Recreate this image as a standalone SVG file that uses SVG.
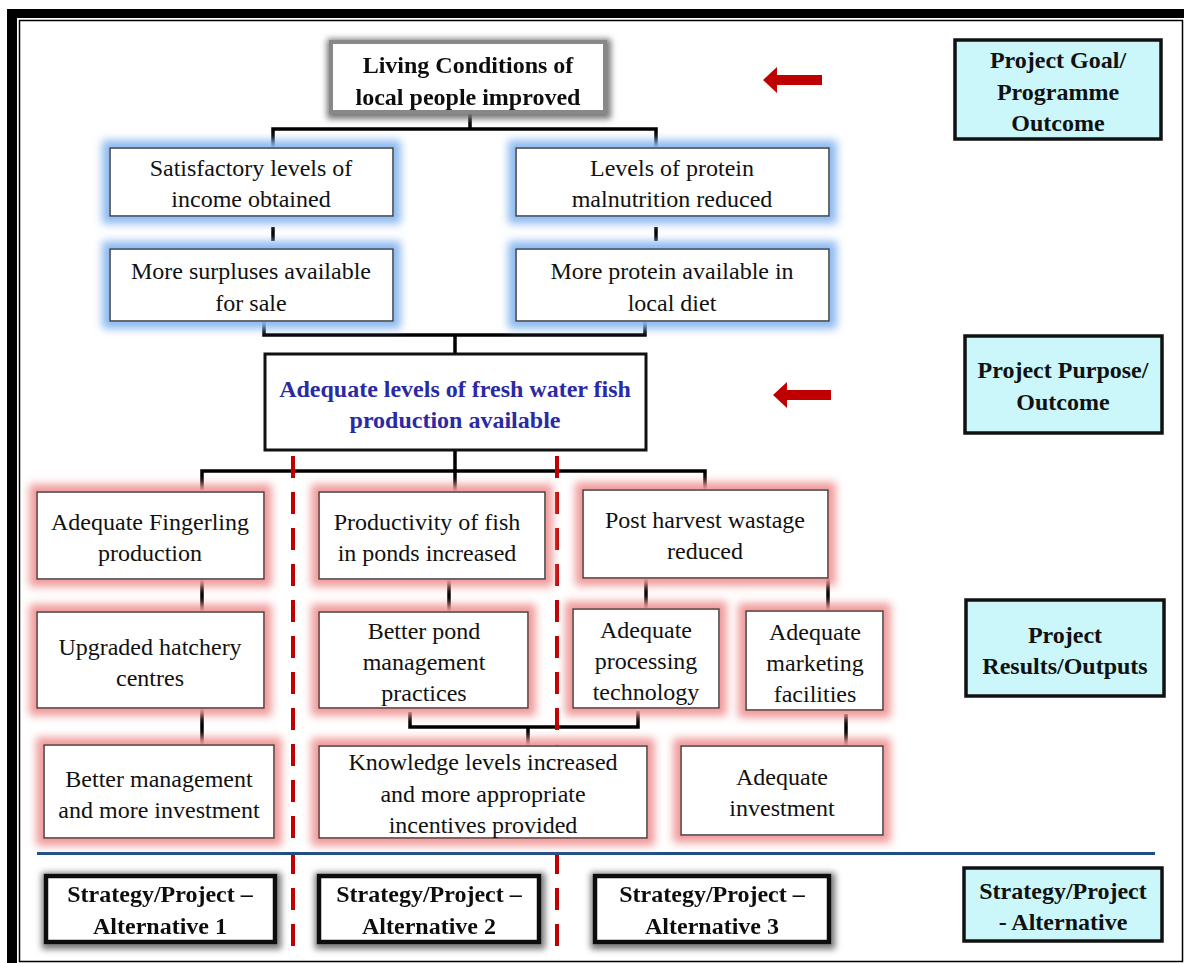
<svg xmlns="http://www.w3.org/2000/svg" width="1184" height="963" viewBox="0 0 1184 963">
  <style>
    .t { font-family: "Liberation Serif", "Times New Roman", serif; font-size: 24px; fill: #111; text-anchor: middle; }
    .b { font-family: "Liberation Serif", "Times New Roman", serif; font-size: 24px; font-weight: bold; fill: #111; text-anchor: middle; }
    .pb { fill: #2a2aa6; }
    .box { fill: #fff; stroke: #3a3a3a; stroke-width: 1.5; }
    .lbl { fill: #cbf7fb; stroke: #111; stroke-width: 3.5; }
    .alt { fill: #fff; stroke: #111; stroke-width: 4.5; }
    .conn { fill: none; stroke: #000; stroke-width: 3.5; }
    .split { fill: none; stroke: #c00000; stroke-width: 4; stroke-dasharray: 22 14; }
    .arrow { fill: #c00000; }
  </style>
  <defs>
    <filter id="glowBlue" x="-20%" y="-40%" width="140%" height="180%">
      <feMorphology in="SourceAlpha" operator="dilate" radius="7" result="d"/>
      <feGaussianBlur in="d" stdDeviation="4" result="bl"/>
      <feFlood flood-color="#8cb9f0"/>
      <feComposite in2="bl" operator="in" result="g"/>
      <feMerge><feMergeNode in="g"/><feMergeNode in="SourceGraphic"/></feMerge>
    </filter>
    <filter id="glowRed" x="-20%" y="-40%" width="140%" height="180%">
      <feMorphology in="SourceAlpha" operator="dilate" radius="7" result="d"/>
      <feGaussianBlur in="d" stdDeviation="4" result="bl"/>
      <feFlood flood-color="#f09a9a"/>
      <feComposite in2="bl" operator="in" result="g"/>
      <feMerge><feMergeNode in="g"/><feMergeNode in="SourceGraphic"/></feMerge>
    </filter>
    <filter id="shadowGrey" x="-20%" y="-40%" width="140%" height="180%">
      <feMorphology in="SourceAlpha" operator="dilate" radius="3" result="d"/>
      <feGaussianBlur in="d" stdDeviation="3" result="bl"/>
      <feOffset in="bl" dx="1" dy="2" result="o"/>
      <feFlood flood-color="#777"/>
      <feComposite in2="o" operator="in" result="g"/>
      <feMerge><feMergeNode in="g"/><feMergeNode in="SourceGraphic"/></feMerge>
    </filter>
  </defs>

  <rect width="1184" height="963" fill="#fff"/>

  <!-- page frame -->
  <g id="frame">
    <rect x="7" y="9" width="1177" height="9" fill="#000"/>
    <rect x="7" y="9" width="10" height="954" fill="#000"/>
    <rect x="19.5" y="20.5" width="1163" height="941" fill="none" stroke="#000" stroke-width="1.5"/>
  </g>

  <!-- connectors -->
  <g id="connectors">
    <path class="conn" d="M470 113 V129 M273 147 V129 H656 V147"/>
    <path class="conn" d="M273 227 V241 M656 227 V241"/>
    <path class="conn" d="M264 322 V335 H645 V322 M455 335 V353"/>
    <path class="conn" d="M455 451 V471 M202 490 V471 H705 V490 M455 471 V492"/>
    <path class="conn" d="M202 579 V611 M449 580 V611 M646 579 V609 M828 579 V611"/>
    <path class="conn" d="M410 712 V727 H638 V711 M528 727 V746"/>
    <path class="conn" d="M202 708 V745 M846 714 V746"/>
    <path class="split" d="M293 456 V950"/>
    <path class="split" d="M557 456 V950"/>
    <line x1="37" y1="853.5" x2="1155" y2="853.5" stroke="#1f4e84" stroke-width="3"/>
    <path class="arrow" d="M763 80 L777 67 V75 H822 V85 H777 V93 Z"/>
    <path class="arrow" d="M773 395 L787 382 V390 H831 V400 H787 V408 Z"/>
  </g>

  <!-- goal -->
  <g id="goal" filter="url(#shadowGrey)">
    <rect x="331" y="42" width="274" height="70" fill="#fff" stroke="#888" stroke-width="4"/>
    <text class="b"><tspan x="468" y="73">Living Conditions of</tspan><tspan x="468" y="105">local people improved</tspan></text>
  </g>

  <g id="income">
    <rect class="box" x="110" y="148" width="283" height="68" filter="url(#glowBlue)"/>
    <text class="t"><tspan x="251" y="176">Satisfactory levels of</tspan><tspan x="251" y="207">income obtained</tspan></text>
  </g>
  <g id="malnutrition">
    <rect class="box" x="516" y="148" width="313" height="68" filter="url(#glowBlue)"/>
    <text class="t"><tspan x="672" y="176">Levels of protein</tspan><tspan x="672" y="207">malnutrition reduced</tspan></text>
  </g>
  <g id="surpluses">
    <rect class="box" x="110" y="249" width="283" height="72" filter="url(#glowBlue)"/>
    <text class="t"><tspan x="251" y="279">More surpluses available</tspan><tspan x="251" y="311">for sale</tspan></text>
  </g>
  <g id="protein">
    <rect class="box" x="516" y="249" width="313" height="72" filter="url(#glowBlue)"/>
    <text class="t"><tspan x="672" y="279">More protein available in</tspan><tspan x="672" y="311">local diet</tspan></text>
  </g>

  <!-- purpose -->
  <g id="purpose">
    <rect x="265" y="354" width="381" height="96" fill="#fff" stroke="#111" stroke-width="3"/>
    <text class="b pb"><tspan x="455" y="397">Adequate levels of fresh water fish</tspan><tspan x="455" y="428">production available</tspan></text>
  </g>

  <!-- outputs -->
  <g id="fingerling">
    <rect class="box" x="37" y="492" width="227" height="87" filter="url(#glowRed)"/>
    <text class="t"><tspan x="150" y="530">Adequate Fingerling</tspan><tspan x="150" y="561">production</tspan></text>
  </g>
  <g id="productivity">
    <rect class="box" x="319" y="492" width="226" height="87" filter="url(#glowRed)"/>
    <text class="t"><tspan x="427" y="530">Productivity of fish</tspan><tspan x="427" y="561">in ponds increased</tspan></text>
  </g>
  <g id="wastage">
    <rect class="box" x="583" y="490" width="245" height="88" filter="url(#glowRed)"/>
    <text class="t"><tspan x="705" y="528">Post harvest wastage</tspan><tspan x="705" y="559">reduced</tspan></text>
  </g>
  <g id="hatchery">
    <rect class="box" x="37" y="612" width="227" height="96" filter="url(#glowRed)"/>
    <text class="t"><tspan x="150" y="655">Upgraded hatchery</tspan><tspan x="150" y="686">centres</tspan></text>
  </g>
  <g id="pond">
    <rect class="box" x="319" y="612" width="209" height="96" filter="url(#glowRed)"/>
    <text class="t"><tspan x="424" y="639">Better pond</tspan><tspan x="424" y="670">management</tspan><tspan x="424" y="701">practices</tspan></text>
  </g>
  <g id="processing">
    <rect class="box" x="573" y="609" width="146" height="99" filter="url(#glowRed)"/>
    <text class="t"><tspan x="646" y="638">Adequate</tspan><tspan x="646" y="669">processing</tspan><tspan x="646" y="700">technology</tspan></text>
  </g>
  <g id="marketing">
    <rect class="box" x="746" y="611" width="137" height="99" filter="url(#glowRed)"/>
    <text class="t"><tspan x="815" y="640">Adequate</tspan><tspan x="815" y="671">marketing</tspan><tspan x="815" y="702">facilities</tspan></text>
  </g>
  <g id="management">
    <rect class="box" x="44" y="745" width="230" height="93" filter="url(#glowRed)"/>
    <text class="t"><tspan x="159" y="787">Better management</tspan><tspan x="159" y="818">and more investment</tspan></text>
  </g>
  <g id="knowledge">
    <rect class="box" x="319" y="746" width="328" height="92" filter="url(#glowRed)"/>
    <text class="t"><tspan x="483" y="770">Knowledge levels increased</tspan><tspan x="483" y="802">and more appropriate</tspan><tspan x="483" y="833">incentives provided</tspan></text>
  </g>
  <g id="investment">
    <rect class="box" x="681" y="746" width="202" height="89" filter="url(#glowRed)"/>
    <text class="t"><tspan x="782" y="785">Adequate</tspan><tspan x="782" y="816">investment</tspan></text>
  </g>

  <!-- alternatives -->
  <g id="alt1" filter="url(#shadowGrey)">
    <rect class="alt" x="46" y="876" width="229" height="66"/>
    <text class="b"><tspan x="160" y="902">Strategy/Project –</tspan><tspan x="160" y="934">Alternative 1</tspan></text>
  </g>
  <g id="alt2" filter="url(#shadowGrey)">
    <rect class="alt" x="319" y="876" width="220" height="66"/>
    <text class="b"><tspan x="429" y="902">Strategy/Project –</tspan><tspan x="429" y="934">Alternative 2</tspan></text>
  </g>
  <g id="alt3" filter="url(#shadowGrey)">
    <rect class="alt" x="595" y="876" width="234" height="66"/>
    <text class="b"><tspan x="712" y="902">Strategy/Project –</tspan><tspan x="712" y="934">Alternative 3</tspan></text>
  </g>

  <!-- level labels -->
  <g id="label-goal">
    <rect class="lbl" x="955" y="40" width="206" height="99"/>
    <text class="b"><tspan x="1058" y="68">Project Goal/</tspan><tspan x="1058" y="100">Programme</tspan><tspan x="1058" y="131">Outcome</tspan></text>
  </g>
  <g id="label-purpose">
    <rect class="lbl" x="965" y="336" width="197" height="97"/>
    <text class="b"><tspan x="1063" y="378">Project Purpose/</tspan><tspan x="1063" y="410">Outcome</tspan></text>
  </g>
  <g id="label-results">
    <rect class="lbl" x="966" y="600" width="198" height="96"/>
    <text class="b"><tspan x="1065" y="643">Project</tspan><tspan x="1065" y="674">Results/Outputs</tspan></text>
  </g>
  <g id="label-alternative">
    <rect class="lbl" x="964" y="868" width="198" height="73"/>
    <text class="b"><tspan x="1063" y="899">Strategy/Project</tspan><tspan x="1063" y="930">- Alternative</tspan></text>
  </g>
</svg>
